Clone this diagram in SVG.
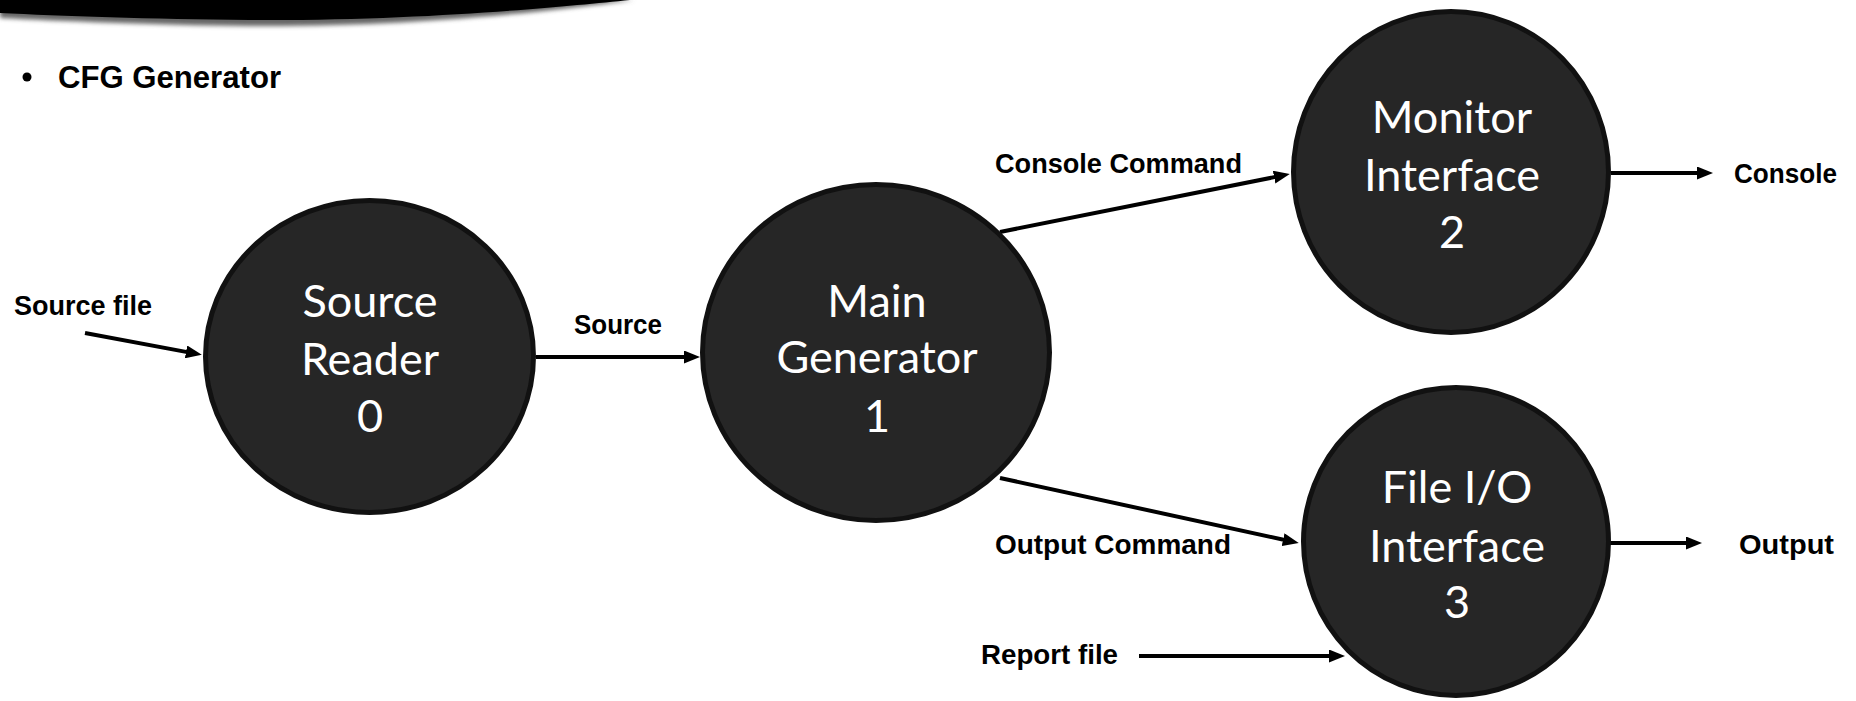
<svg xmlns="http://www.w3.org/2000/svg" width="1856" height="701" viewBox="0 0 1856 701">
  <defs>
    <marker id="arrow" viewBox="0 0 16 13" markerWidth="16" markerHeight="13" refX="4" refY="6.5" orient="auto" markerUnits="userSpaceOnUse">
      <path d="M0,0 L16,6.5 L0,13 z" fill="#000"/>
    </marker>
    <filter id="soft" x="-5%" y="-50%" width="110%" height="200%">
      <feGaussianBlur stdDeviation="2"/>
    </filter>
  </defs>
  <style>
    .bubble { fill: #262626; stroke: #111; stroke-width: 5; }
    .ntext { font-family: Lato, "Open Sans", sans-serif; font-size: 45px; fill: #fff; text-anchor: middle; }
    .label { font-family: "Liberation Sans", Arial, sans-serif; font-weight: bold; font-size: 27px; fill: #000; }
    .flow { stroke: #000; stroke-width: 4; fill: none; marker-end: url(#arrow); }
  </style>

  <rect width="1856" height="701" fill="#fff"/>

  <!-- header swoosh -->
  <g id="header">
    <path d="M0,0 L634,0 C560,10 420,27 250,26 C150,25 60,21 0,18 Z" fill="#666" filter="url(#soft)"/>
    <path d="M0,0 L630,0 C560,7 420,21 250,20 C150,19 60,16 0,13 Z" fill="#000"/>
  </g>

  <!-- title bullet -->
  <g id="title">
    <circle cx="27" cy="77" r="4.5" fill="#000"/>
    <text class="label" x="58" y="88" style="font-size:31px" textLength="223" lengthAdjust="spacingAndGlyphs">CFG Generator</text>
  </g>

  <!-- connectors -->
  <g id="connectors">
    <path class="flow" d="M85,333 L190,352.6"/>
    <path class="flow" d="M536,357 L688,357"/>
    <path class="flow" d="M1000,232 L1278,176.4"/>
    <path class="flow" d="M1000,478 L1287,540.5"/>
    <path class="flow" d="M1139,656 L1333,656"/>
    <path class="flow" d="M1611,173 L1701,173"/>
    <path class="flow" d="M1609,543 L1690,543"/>
    <text class="label" x="14" y="315" textLength="138" lengthAdjust="spacingAndGlyphs">Source file</text>
    <text class="label" x="574" y="334" textLength="88" lengthAdjust="spacingAndGlyphs">Source</text>
    <text class="label" x="995" y="173" textLength="247" lengthAdjust="spacingAndGlyphs">Console Command</text>
    <text class="label" x="995" y="554" textLength="236" lengthAdjust="spacingAndGlyphs">Output Command</text>
    <text class="label" x="981" y="664" textLength="137" lengthAdjust="spacingAndGlyphs">Report file</text>
    <text class="label" x="1734" y="183" textLength="103" lengthAdjust="spacingAndGlyphs">Console</text>
    <text class="label" x="1739" y="554" textLength="95" lengthAdjust="spacingAndGlyphs">Output</text>
  </g>

  <!-- process nodes -->
  <g id="node-0">
    <ellipse class="bubble" cx="369.5" cy="356.5" rx="164" ry="156"/>
    <text class="ntext" x="370" y="317">Source</text>
    <text class="ntext" x="370" y="375">Reader</text>
    <text class="ntext" x="370" y="432">0</text>
  </g>
  <g id="node-1">
    <ellipse class="bubble" cx="876" cy="352.5" rx="173.5" ry="168"/>
    <text class="ntext" x="877" y="317">Main</text>
    <text class="ntext" x="877" y="373">Generator</text>
    <text class="ntext" x="877" y="432">1</text>
  </g>
  <g id="node-2">
    <ellipse class="bubble" cx="1451" cy="172" rx="157.5" ry="160.5"/>
    <text class="ntext" x="1452" y="133">Monitor</text>
    <text class="ntext" x="1452" y="191">Interface</text>
    <text class="ntext" x="1452" y="248">2</text>
  </g>
  <g id="node-3">
    <ellipse class="bubble" cx="1456" cy="541.5" rx="152.5" ry="154"/>
    <text class="ntext" x="1457" y="503">File I/O</text>
    <text class="ntext" x="1457" y="562">Interface</text>
    <text class="ntext" x="1457" y="618">3</text>
  </g>
</svg>
